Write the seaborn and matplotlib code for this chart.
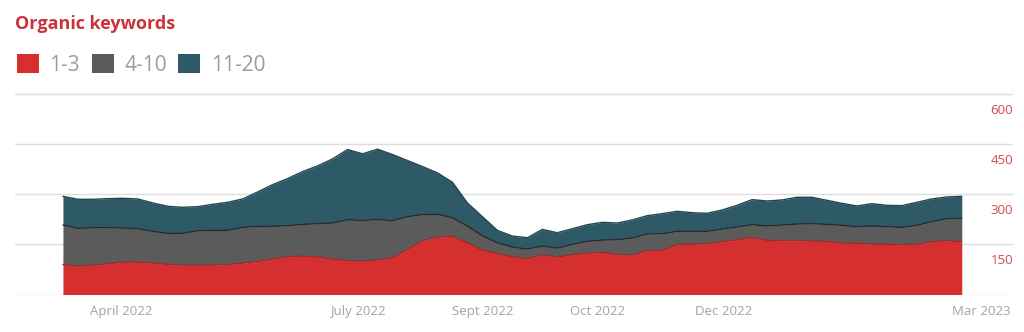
import numpy as np
import pandas as pd
import matplotlib
matplotlib.use("Agg")
import matplotlib.pyplot as plt
import matplotlib.transforms as mtransforms
from matplotlib.patches import Patch
import seaborn as sns

# ---- data ----
series_names = ["1-3", "4-10", "11-20"]
top3 = [90, 85, 88, 92, 97, 97, 94, 90, 88, 88, 88, 90, 94, 99, 106, 113, 115, 112, 106, 101,
        100, 103, 110, 134, 161, 172, 174, 155, 133, 122, 113, 107, 119, 112, 119, 124, 126, 119, 118, 131,
        132, 149, 151, 152, 158, 164, 170, 162, 161, 161, 160, 159, 154, 153, 151, 150, 149, 151, 158, 161, 158]
top4_10 = [118, 113, 112, 108, 102, 100, 95, 93, 95, 103, 104, 102, 107, 105, 98, 93, 95, 100, 108, 123,
           121, 122, 111, 99, 78, 68, 56, 50, 43, 33, 29, 29, 26, 27, 31, 35, 37, 45, 51, 50,
           50, 40, 38, 37, 38, 38, 39, 43, 47, 50, 52, 51, 53, 50, 54, 53, 52, 56, 60, 66, 69]
top11_20 = [86, 87, 85, 87, 89, 89, 85, 81, 78, 72, 78, 84, 85, 103, 125, 141, 158, 173, 192, 210,
            200, 210, 198, 168, 144, 124, 106, 69, 57, 37, 33, 34, 50, 46, 47, 50, 53, 50, 54, 55,
            60, 60, 56, 54, 57, 65, 75, 75, 75, 80, 79, 72, 66, 62, 67, 64, 65, 69, 68, 65, 67]
tick_pos = [3.87, 19.7, 28.0, 35.7, 44.1, 61.3]
tick_labels = ["April 2022", "July 2022", "Sept 2022", "Oct 2022", "Dec 2022", "Mar 2023"]
y_ticks = [0, 150, 300, 450, 600]
y_labels = ["", "150", "300", "450", "600"]

colors = ["#d62f2f", "#5b5b5b", "#2e5a67"]
edge_colors = ["#a82626", "#2a2a2a", "#24474f"]

x = np.arange(len(top3))
df = pd.DataFrame({"x": x, "a": top3, "b": top4_10, "c": top11_20})
df["cum1"] = df["a"]
df["cum2"] = df["a"] + df["b"]
df["cum3"] = df["cum2"] + df["c"]

sns.set_theme(style="white")
plt.rcParams["font.family"] = ["Open Sans", "DejaVu Sans"]

fig = plt.figure(figsize=(10.24, 3.32), dpi=100)
ax = fig.add_axes([15 / 1024, 0.1108, 998 / 1024, 0.610])

ax.stackplot(df["x"], df["a"], df["b"], df["c"], colors=colors, linewidth=0, zorder=2)
for col, ec in zip(["cum1", "cum2", "cum3"], edge_colors):
    sns.lineplot(data=df, x="x", y=col, color=ec, linewidth=1.0, ax=ax, zorder=3)

ax.set_xlim(-3.2, 63.42)
ax.set_ylim(-2, 604)
ax.set_xlabel("")
ax.set_ylabel("")
for s in ax.spines.values():
    s.set_visible(False)

ax.set_yticks(y_ticks)
ax.set_yticklabels(y_labels)
ax.yaxis.grid(True, color="#dedede", linewidth=1.0, zorder=0)
ax.set_axisbelow(True)
ax.tick_params(axis="y", left=False, right=False, labelleft=False, labelright=True,
               pad=-6, labelsize=9.5, labelcolor="#cf4a4a")
for t in ax.yaxis.get_major_ticks():
    t.label2.set_horizontalalignment("right")

ax.set_xticks(tick_pos)
ax.set_xticklabels(tick_labels)
ax.tick_params(axis="x", bottom=False, top=False, pad=1, labelsize=9.5, labelcolor="#a3a3a3")

offset = mtransforms.ScaledTranslation(0, -15 / 100, fig.dpi_scale_trans)
for t in ax.yaxis.get_major_ticks():
    t.label2.set_transform(t.label2.get_transform() + offset)

fig.text(15 / 1024, 1 - 24 / 332, "Organic keywords", color="#c8343a", fontsize=13,
         fontweight="bold", ha="left", va="center")

handles = [Patch(facecolor=c, edgecolor="none") for c in colors]
fig.legend(handles, series_names, loc="upper left", bbox_to_anchor=(17 / 1024, 1 - 54 / 332),
           ncol=3, frameon=False, fontsize=15, labelcolor="#9c9c9c",
           handlelength=1.06, handleheight=1.06, handletextpad=0.5, columnspacing=0.55,
           borderpad=0, borderaxespad=0)

fig.savefig("out.png", dpi=100, facecolor="white")
